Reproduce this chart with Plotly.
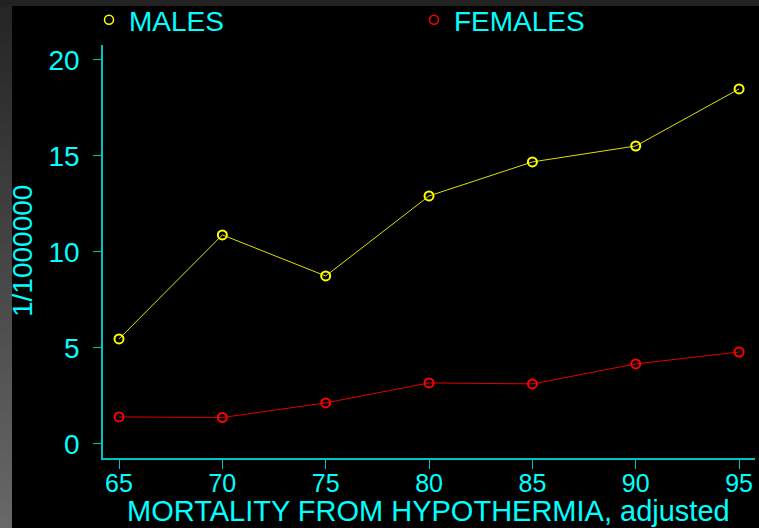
import plotly.graph_objects as go

# Age groups and mortality rates (per 1,000,000)
ages = [65, 70, 75, 80, 85, 90, 95]
males = [5.47, 10.89, 8.75, 12.92, 14.69, 15.52, 18.49]
females = [1.41, 1.38, 2.14, 3.18, 3.13, 4.17, 4.79]
y_ticks = [0, 5, 10, 15, 20]

W, H = 759, 528
L, R, T, B = 103, 4, 45, 70
PW, PH = W - L - R, H - T - B

CYAN = "#00ffff"
TEAL = "#00c4c4"
FONT = "Liberation Sans, Arial, sans-serif"


def px_x(x):
    return (x - L) / PW


def px_y(y):
    return (H - B - y) / PH


fig = go.Figure()

series = [("MALES", males, "#ffff00", "#e0e000"), ("FEMALES", females, "#ff0000", "#e00000")]
for name, vals, mcol, lcol in series:
    fig.add_trace(go.Scatter(
        x=ages, y=vals, mode="lines+markers", name=name, showlegend=False,
        line=dict(color=lcol, width=1),
        marker=dict(symbol="circle-open", size=9, color=mcol, line=dict(width=2, color=mcol)),
    ))
for name, vals, mcol, lcol in series:
    fig.add_trace(go.Scatter(
        x=[None], y=[None], mode="markers", name=name,
        marker=dict(symbol="circle-open", size=9, color=mcol, line=dict(width=1.5, color=mcol)),
    ))

# Grey frame: dark strip along the top, vertical gradient strip on the left
shapes = [dict(type="rect", xref="paper", yref="paper", x0=px_x(0), x1=px_x(W), y0=px_y(6), y1=px_y(0),
               fillcolor="#222222", line=dict(width=0), layer="above")]
steps = 40
for i in range(steps):
    y0 = 6 + (H - 6) * i / steps
    y1 = 6 + (H - 6) * (i + 1) / steps + 1.5
    g = int(0x26 + (0x68 - 0x26) * i / (steps - 1))
    shapes.append(dict(type="rect", xref="paper", yref="paper", x0=px_x(0), x1=px_x(12),
                       y0=px_y(min(y1, H)), y1=px_y(y0), fillcolor=f"rgb({g},{g},{g})",
                       line=dict(width=0), layer="above"))

fig.update_layout(
    width=W, height=H,
    margin=dict(l=L, r=R, t=T, b=B, autoexpand=False),
    paper_bgcolor="black", plot_bgcolor="black",
    font=dict(family=FONT, color=CYAN),
    showlegend=True,
    legend=dict(orientation="h", x=px_x(89), y=px_y(20), xanchor="left", yanchor="middle",
                font=dict(size=28, color=CYAN), entrywidth=280, entrywidthmode="pixels",
                bgcolor="rgba(0,0,0,0)"),
    xaxis=dict(range=[64.226, 95.77], tickvals=ages, ticks="outside", ticklen=9, tickwidth=1,
               tickcolor=TEAL, showline=True, linecolor=TEAL, linewidth=1.5, showgrid=False,
               zeroline=False, tickfont=dict(size=25, color=CYAN), ticklabelstandoff=-7),
    yaxis=dict(range=[-0.73, 20.78], tickvals=y_ticks, ticks="outside", ticklen=8, tickwidth=1,
               tickcolor=TEAL, showline=True, linecolor=TEAL, linewidth=1.5, showgrid=False,
               zeroline=False, tickfont=dict(size=28, color=CYAN), ticklabelstandoff=8),
    shapes=shapes,
    annotations=[
        dict(text="MORTALITY FROM HYPOTHERMIA, adjusted", xref="paper", yref="paper",
             x=px_x(428), y=px_y(511), xanchor="center", yanchor="middle", showarrow=False,
             font=dict(size=29, color=CYAN)),
        dict(text="1/1000000", xref="paper", yref="paper", textangle=-90,
             x=px_x(22), y=px_y(251), xanchor="center", yanchor="middle", showarrow=False,
             font=dict(size=28, color=CYAN)),
    ],
)

fig.write_html("out.html")
